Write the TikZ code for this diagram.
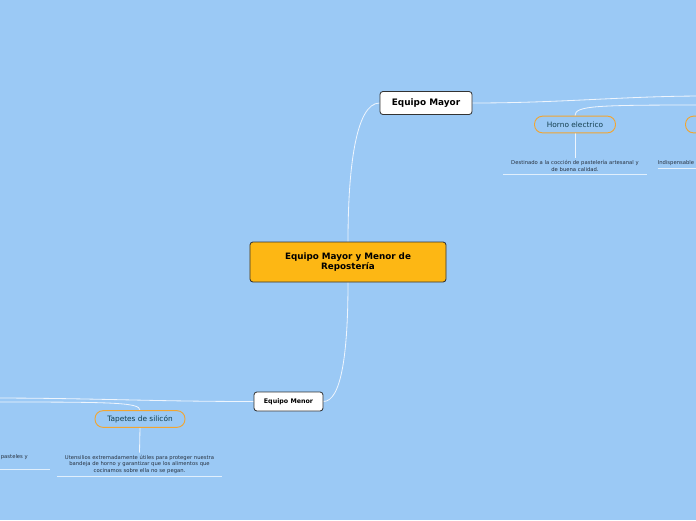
\documentclass[tikz,border=0pt]{standalone}
\usepackage{fontspec}
\setmainfont{DejaVu Sans}
\usetikzlibrary{backgrounds}

\definecolor{bgblue}{HTML}{9BC9F5}
\definecolor{rootfill}{HTML}{FDB714}
\definecolor{pillorange}{HTML}{F2A531}
\definecolor{pilltext}{HTML}{133F4E}
\definecolor{desctext}{HTML}{27313F}
\definecolor{linkline}{HTML}{EEF5FD}

\tikzset{
  rootbox/.style={draw=black!80, fill=rootfill, rounded corners=2.5pt, line width=0.7pt,
    minimum width=5.88cm, minimum height=1.2cm, align=center,
    font=\fontsize{7.5}{9}\selectfont\bfseries},
  mainbox/.style={draw=black!80, fill=white, rounded corners=2.5pt, line width=0.7pt},
  pill/.style={draw=pillorange, rounded corners=0.24cm, line width=0.8pt, text=pilltext,
    font=\fontsize{6.3}{7}\selectfont, minimum height=0.5cm, inner sep=0pt},
  desc/.style={text=desctext, font=\fontsize{4.5}{5.6}\selectfont, align=center,
    inner xsep=0pt, inner ysep=2pt},
  link/.style={draw=linkline, line width=0.7pt},
  uline/.style={draw=white!70!bgblue, line width=0.7pt},
}

\begin{document}
\begin{tikzpicture}[x=0.03cm, y=-0.03cm]
		% Canvas, clipped to the viewing box
		\useasboundingbox (0,0) rectangle (696,520);
		\clip (0,0) rectangle (696,520);
		\begin{scope}[on background layer]
			\fill[bgblue] (0,0) rectangle (696,520);
		\end{scope}
		
		% 1. Ends of links leaving the view
		\coordinate (mayorOut) at (705,96);
		\coordinate (hornoOut) at (705,105);
		\coordinate (menorOut) at (-10,398);
		\coordinate (tapetesOut) at (-10,402);
		
		% 2. Topic boxes
		\node[rootbox] (root) at (348,262) {Equipo Mayor y Menor de\\Repostería};
		\node[mainbox, minimum width=2.76cm, minimum height=0.69cm,
			font=\fontsize{7.6}{9}\selectfont\bfseries] (mayor) at (426,103) {Equipo Mayor};
		\node[mainbox, minimum width=2.07cm, minimum height=0.57cm,
			font=\fontsize{5.4}{7}\selectfont\bfseries] (menor) at (288.5,401.5) {Equipo Menor};
		
		% 3. Sub-topics
		\node[pill, minimum width=2.43cm] (horno) at (575,124.5) {Horno electrico};
		\node[pill, minimum width=2.43cm] (extra) at (726,124.5) {};
		\node[pill, minimum width=2.7cm] (tapetes) at (140,419) {Tapetes de silicón};
		
		% Notes under the sub-topics
		\node[desc, text width=4.32cm, anchor=north] (hdesc) at (575,158)
			{Destinado a la cocción de pastelería artesanal y\\de buena calidad.};
		\node[desc, text width=4.95cm, anchor=north] (tdesc) at (139.5,452.5)
			{Utensilios extremadamente útiles para proteger nuestra\\bandeja de horno y garantizar que los alimentos que\\cocinamos sobre ella no se pegan.};
		\node[desc, text width=3cm, align=left, anchor=north west] (idesc) at (657.5,158) {Indispensable};
		\node[desc, anchor=east] (pdesc) at (28,457) {pasteles y};
		
		% 4. Links (behind the boxes)
		\begin{scope}[on background layer]
			\draw[link] (root.north) .. controls +(0,-72) and +(-24,0) .. (mayor.west);
			\draw[link] (root.south) .. controls +(0,70) and +(18,0) .. (menor.east);
			\draw[link] (mayor.east) .. controls +(90,0) and +(-80,0) .. (mayorOut);
			\draw[link] (horno.north) .. controls +(0,-10) and +(-110,0) .. (hornoOut);
			\draw[link] (menor.west) .. controls +(-100,0) and +(100,0) .. (menorOut);
			\draw[link] (tapetes.north) .. controls +(0,-8) and +(120,0) .. (tapetesOut);
			\draw[link] (horno.south) -- (hdesc.north);
			\draw[link] (tapetes.south) -- (tdesc.north);
		\end{scope}
		
		% Rules under the notes
		\draw[uline] (hdesc.south west) -- (hdesc.south east);
		\draw[uline] (tdesc.south west) -- (tdesc.south east);
		\draw[uline] (idesc.south west) -- (idesc.south east);
		\draw[uline] (-5,469) -- (50,469);
		
	\end{tikzpicture}
\end{document}
